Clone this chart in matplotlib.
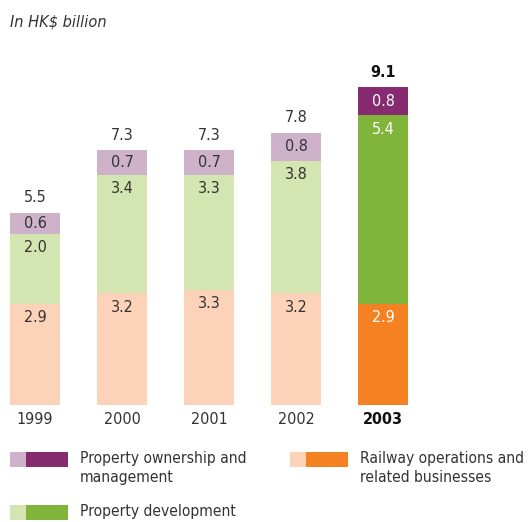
import matplotlib.pyplot as plt
from matplotlib.patches import Rectangle

years = ["1999", "2000", "2001", "2002", "2003"]
railway = [2.9, 3.2, 3.3, 3.2, 2.9]
development = [2.0, 3.4, 3.3, 3.8, 5.4]
ownership = [0.6, 0.7, 0.7, 0.8, 0.8]
totals = [5.5, 7.3, 7.3, 7.8, 9.1]

light = {"rail": "#fcd3b9", "dev": "#d3e6b1", "own": "#cdb2ca"}
dark = {"rail": "#f58222", "dev": "#80b43b", "own": "#862b70"}
txt = "#333333"
plt.rcParams["font.family"] = ["DejaVu Sans"]
plt.rcParams["font.stretch"] = "condensed"

fig = plt.figure(figsize=(5.31, 5.22), dpi=100)
ax = fig.add_axes([0, 117 / 522, 1, 345 / 522])
ax.set_xlim(-35 / 87, 496 / 87)
ax.set_ylim(0, 345 / 34.9)
ax.axis("off")

width = 50 / 87
for i, yr in enumerate(years):
    last = i == len(years) - 1
    cols = dark if last else light
    tc = "white" if last else txt
    bottom = 0
    for key, val in (("rail", railway[i]), ("dev", development[i]), ("own", ownership[i])):
        ax.bar(i, val, width, bottom=bottom, color=cols[key], linewidth=0)
        ypos = max(bottom + val / 2, bottom + val - 0.4)
        ax.text(i, ypos, f"{val:.1f}", ha="center", va="center", fontsize=11.5, color=tc)
        bottom += val
    ax.text(i, bottom + 0.22, f"{totals[i]:.1f}", ha="center", va="bottom", fontsize=11.5,
            color="#111111" if last else txt, fontweight="bold" if last else "normal")
    ax.text(i, -0.2, yr, ha="center", va="top", fontsize=11.5,
            color="#111111" if last else txt, fontweight="bold" if last else "normal")

fig.text(10 / 531, 1 - 22 / 522, "In HK$ billion", ha="left", va="center", fontsize=11.7,
         style="italic", color=txt)

legend = [
    ("own", "Property ownership and\nmanagement", 10, 452),
    ("rail", "Railway operations and\nrelated businesses", 290, 452),
    ("dev", "Property development", 10, 505),
]
for key, label, x0, y0 in legend:
    fig.add_artist(Rectangle((x0 / 531, 1 - (y0 + 15) / 522), 16 / 531, 15 / 522,
                             transform=fig.transFigure, color=light[key], lw=0))
    fig.add_artist(Rectangle(((x0 + 16) / 531, 1 - (y0 + 15) / 522), 42 / 531, 15 / 522,
                             transform=fig.transFigure, color=dark[key], lw=0))
    fig.text((x0 + 70) / 531, 1 - (y0 - 1) / 522, label, ha="left", va="top", fontsize=11.2,
             color=txt, linespacing=1.35)

fig.savefig("out.png", dpi=100)
